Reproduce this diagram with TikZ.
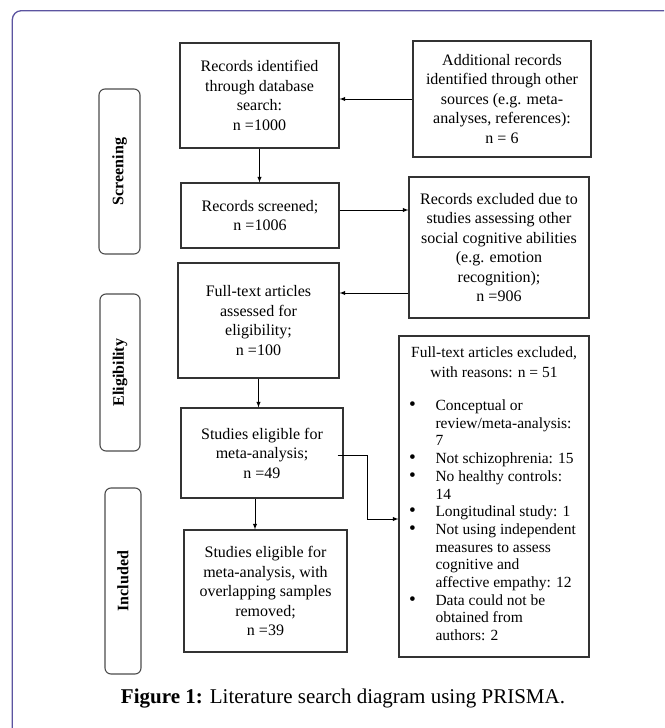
\documentclass[tikz,border=0pt]{standalone}
\usepackage{fontspec}
\usepackage{graphicx}
\setmainfont{Liberation Serif}
\usetikzlibrary{arrows}

\definecolor{framecol}{RGB}{92,84,160}
\newcommand{\blt}{\scalebox{1.25}{\textbullet}}

\tikzset{
  box/.style={draw=black!80, line width=1.1pt, align=center, inner sep=2pt,
    font=\fontsize{16}{19.5}\selectfont},
  listbox/.style={draw=black!80, line width=1.1pt, inner sep=0pt},
  stage/.style={draw=black!70, line width=1.1pt, rounded corners=6pt, rotate=90,
    font=\fontsize{16}{19}\selectfont\bfseries},
  arr/.style={-latex, line width=0.9pt},
}

\begin{document}
\begin{tikzpicture}[x=1pt,y=-1pt]
  \useasboundingbox (0,0) rectangle (664,728);
  % outer frame
  \draw[framecol, line width=1.3pt, rounded corners=9pt] (12.3,728) -- (12.3,10.7) -- (664,10.7);

  % stages
  \node[stage, minimum width=165pt, minimum height=41pt] (screening) at (119.5,171.5) {Screening};
  \node[stage, minimum width=157pt, minimum height=40pt] (eligibility) at (120,372.5) {Eligibility};
  \node[stage, minimum width=186pt, minimum height=36pt] (included) at (123,581) {Included};

  % boxes
  \node[box, minimum width=159pt, minimum height=105pt] (rid) at (259.5,95.5)
    {Records identified\\through database\\search:\\n =1000};
  \node[box, minimum width=178pt, minimum height=116pt] (add) at (502,99)
    {Additional records\\identified through other\\sources (e.g. meta-\\analyses, references):\\n = 6};
  \node[box, minimum width=158pt, minimum height=65pt] (scr) at (260,215.5)
    {Records screened;\\n =1006};
  \node[box, minimum width=180pt, minimum height=141pt] (exc) at (499,247.5)
    {Records excluded due to\\studies assessing other\\social cognitive abilities\\(e.g. emotion\\recognition);\\n =906};
  \node[box, minimum width=161pt, minimum height=115pt] (full) at (258.5,320.5)
    {Full-text articles\\assessed for\\eligibility;\\n =100};
  \node[box, minimum width=162pt, minimum height=90pt] (elig) at (262,453)
    {Studies eligible for\\meta-analysis;\\n =49};
  \node[box, minimum width=163pt, minimum height=122pt] (incl) at (265.5,591)
    {Studies eligible for\\meta-analysis, with\\overlapping samples\\removed;\\n =39};
  \node[listbox, minimum width=190pt, minimum height=321pt] (ftx) at (494,496.5) {%
    \begin{minipage}{176pt}
      \fontsize{15.5}{20}\selectfont\centering
      Full-text articles excluded,\\with reasons: n = 51\par
      \vspace{15pt}
      \raggedright\fontsize{15.5}{17.7}\selectfont
      \hspace*{3pt}\begin{tabular}[t]{@{}p{26.5pt}@{}l@{}}
        \blt & Conceptual or\\
             & review/meta-analysis:\\
             & 7\\
        \blt & Not schizophrenia: 15\\
        \blt & No healthy controls:\\
             & 14\\
        \blt & Longitudinal study: 1\\
        \blt & Not using independent\\
             & measures to assess\\
             & cognitive and\\
             & affective empathy: 12\\
        \blt & Data could not be\\
             & obtained from\\
             & authors: 2
      \end{tabular}
    \end{minipage}};

  % connectors
  \draw[arr] (add.west) -- (add.west -| rid.east);
  \draw[arr] (rid.south) -- (rid.south |- scr.north);
  \draw[arr] ([yshift=5.5pt]scr.east) -- ([yshift=5.5pt]scr.east -| exc.west);
  \draw[arr] ([yshift=-45.5pt]exc.west) -- ([yshift=-45.5pt]exc.west -| full.east);
  \draw[arr] (full.south) -- (full.south |- elig.north);
  \draw[arr] ([xshift=-7pt]elig.south) -- ([xshift=-7pt]elig.south |- incl.north);
  \coordinate (bend) at (367,519);
  \draw[arr] ([xshift=-6pt,yshift=-2pt]elig.east) -| (bend) -- (bend -| ftx.west);

  % caption
  \node (cap) at (343,699) {\fontsize{21}{25}\selectfont\textbf{Figure 1:} Literature search diagram using PRISMA.};
\end{tikzpicture}
\end{document}
